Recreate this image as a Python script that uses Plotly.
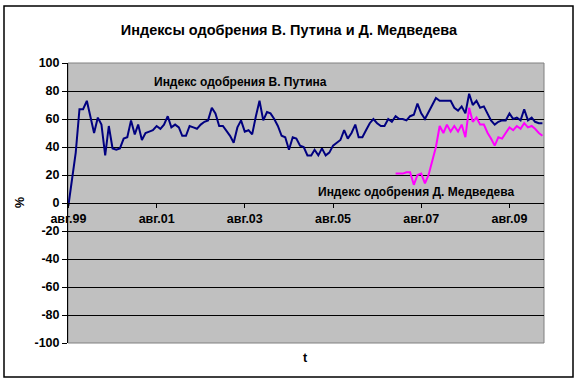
import plotly.graph_objects as go
import pandas as pd

# Monthly index values, Aug 1999 onward
putin = [-2, 17, 36, 67, 67, 73, 62, 50, 61, 56,
         34, 55, 39, 38, 39, 46, 47, 59, 49, 56,
         45, 50, 51, 52, 55, 53, 56, 62, 54, 56,
         54, 48, 48, 55, 54, 53, 56, 58, 59, 68,
         64, 55, 55, 52, 48, 43, 54, 59, 51, 52,
         49, 62, 73, 59, 65, 64, 60, 55, 48, 47,
         38, 47, 46, 41, 40, 34, 34, 38, 34, 39,
         34, 36, 41, 43, 45, 52, 46, 50, 56, 47,
         47, 52, 57, 60, 57, 55, 55, 60, 58, 62,
         60, 60, 59, 62, 63, 71, 64, 60, 65, 70,
         75, 73, 73, 73, 73, 68, 66, 69, 64, 78,
         70, 73, 68, 69, 64, 59, 56, 58, 59, 59,
         64, 60, 61, 59, 67, 59, 61, 58, 57, 57]

# Medvedev series starts in Jan 2007
medvedev_start = "2007-01-01"
medvedev = [21, 21, 21, 22, 22, 13, 20, 21, 14, 20,
            30, 40, 55, 50, 56, 51, 55, 51, 56, 47,
            68, 58, 61, 56, 56, 50, 46, 41, 47, 46,
            50, 54, 52, 55, 53, 57, 54, 55, 53, 50, 48]

putin_dates = pd.date_range("1999-08-01", periods=len(putin), freq="MS")
medvedev_dates = pd.date_range(medvedev_start, periods=len(medvedev), freq="MS")

tick_vals = ["1999-08-01", "2001-08-01", "2003-08-01", "2005-08-01", "2007-08-01", "2009-08-01"]
tick_text = ["авг.99", "авг.01", "авг.03", "авг.05", "авг.07", "авг.09"]
y_ticks = [-100, -80, -60, -40, -20, 0, 20, 40, 60, 80, 100]
y_tick_text = ["-100", "-80", "-60", "-40", "-20", "0", "20", "40", "60", "80", "100"]

title_text = "Индексы одобрения В. Путина и Д. Медведева"
label_putin = "Индекс одобрения В. Путина"
label_medvedev = "Индекс одобрения Д. Медведева"

FONT = "Arial, Liberation Sans, sans-serif"

fig = go.Figure()
fig.add_trace(go.Scatter(x=putin_dates, y=putin, mode="lines",
                         line=dict(color="#000080", width=2), name=label_putin))
fig.add_trace(go.Scatter(x=medvedev_dates, y=medvedev, mode="lines",
                         line=dict(color="#FF00FF", width=2), name=label_medvedev))

L, R, T, B = 68, 34, 63, 46
W, H = 578, 389
pw, ph = W - L - R, H - T - B

def px_x(x):
    return (x - L) / pw

def px_y(y):
    return (H - B - y) / ph

fig.update_layout(
    width=W, height=H,
    margin=dict(l=L, r=R, t=T, b=B),
    paper_bgcolor="white",
    plot_bgcolor="#C0C0C0",
    showlegend=False,
    title=dict(text=title_text, x=0.5, xref="container", xanchor="center",
               y=1 - 30 / H, yref="container", yanchor="middle",
               font=dict(family=FONT, size=14.5, color="black", weight="bold")),
    xaxis=dict(type="date", range=["1999-07-29", "2010-05-14"],
               tickvals=tick_vals, ticktext=tick_text,
               anchor="free", position=0.5,
               showline=True, linecolor="black", linewidth=1,
               ticks="outside", ticklen=4, tickcolor="black",
               showgrid=False, zeroline=False,
               tickfont=dict(family=FONT, size=12.5, color="black", weight="bold")),
    yaxis=dict(range=[-100, 100], tickvals=y_ticks, ticktext=y_tick_text,
               showline=True, linecolor="black", linewidth=1,
               ticks="outside", ticklen=5, tickcolor="black",
               showgrid=True, gridcolor="black", gridwidth=1,
               zeroline=True, zerolinecolor="black", zerolinewidth=1,
               tickfont=dict(family=FONT, size=12.5, color="black", weight="bold")),
    shapes=[
        dict(type="rect", xref="paper", yref="paper", x0=0, x1=1, y0=0, y1=1,
             line=dict(color="#808080", width=1), layer="below"),
        dict(type="rect", xref="paper", yref="paper",
             x0=px_x(4), x1=px_x(573), y0=px_y(377), y1=px_y(6),
             line=dict(color="black", width=1.5), fillcolor="rgba(0,0,0,0)"),
    ],
    annotations=[
        dict(text=label_putin, xref="paper", yref="paper", x=px_x(152), y=px_y(82),
             xanchor="left", yanchor="middle", showarrow=False,
             font=dict(family=FONT, size=12, color="black", weight="bold")),
        dict(text=label_medvedev, xref="paper", yref="paper", x=px_x(316), y=px_y(192),
             xanchor="left", yanchor="middle", showarrow=False,
             font=dict(family=FONT, size=12, color="black", weight="bold")),
        dict(text="t", xref="paper", yref="paper", x=px_x(305), y=px_y(358),
             xanchor="center", yanchor="middle", showarrow=False,
             font=dict(family=FONT, size=12.5, color="black", weight="bold")),
        dict(text="%", xref="paper", yref="paper", x=px_x(20), y=px_y(203),
             xanchor="center", yanchor="middle", showarrow=False, textangle=-90,
             font=dict(family=FONT, size=12.5, color="black", weight="bold")),
    ],
)

fig.write_html("out.html", config={"displayModeBar": False},
               post_script="document.body.style.margin='0px';")
